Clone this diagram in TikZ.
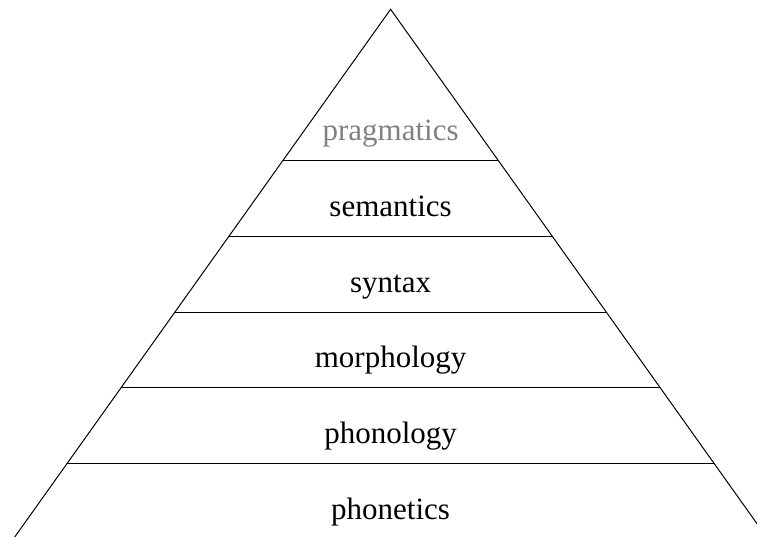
\documentclass[tikz,border=0pt]{standalone}
\usepackage{fontspec}
\setmainfont{Liberation Serif}
\usepackage{tikz}
\usetikzlibrary{positioning}

\tikzset{
  layer/.style={anchor=base, font=\fontsize{23.3}{28}\selectfont},
  rule/.style={line width=0.75pt}
}

\begin{document}
\begin{tikzpicture}
  \useasboundingbox (-10.32,-13.94) rectangle (9.68,0.246);
  % outline of the pyramid
  \coordinate (apex) at (0,0);
  \coordinate (foot-l) at (-9.93,-13.94);
  \coordinate (foot-r) at (9.93,-13.94);
  \draw[rule] (foot-l) -- (apex) -- (foot-r);
  % dividing lines
  \draw[rule] (-2.85,-4) coordinate (l2) -- (2.85,-4) coordinate (r2);
  \draw[rule] (-4.275,-6) coordinate (l3) -- (4.275,-6) coordinate (r3);
  \draw[rule] (-5.7,-8) coordinate (l4) -- (5.7,-8) coordinate (r4);
  \draw[rule] (-7.125,-10) coordinate (l5) -- (7.125,-10) coordinate (r5);
  \draw[rule] (-8.55,-12) coordinate (l6) -- (8.55,-12) coordinate (r6);
  % layer names
  \node[layer, text=gray] (prag) at (0,-3.47) {pragmatics};
  \node[layer] (sem) at (0,-5.47) {semantics};
  \node[layer] (syn) at (0,-7.47) {syntax};
  \node[layer] (morph) at (0,-9.47) {morphology};
  \node[layer] (phonol) at (0,-11.47) {phonology};
  \node[layer] (phonet) at (0,-13.47) {phonetics};
\end{tikzpicture}
\end{document}
